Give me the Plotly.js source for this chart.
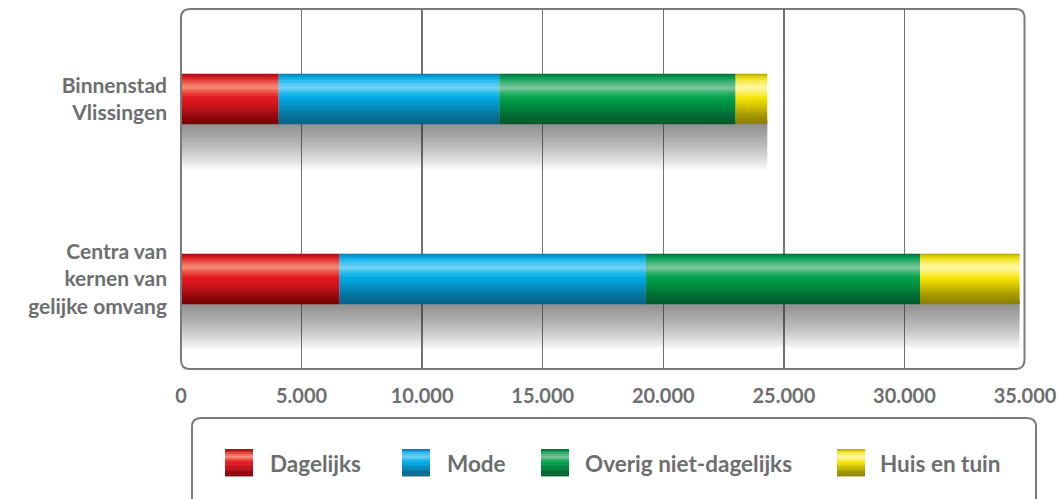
<!DOCTYPE html>
<html>
<head>
<meta charset="utf-8">
<script src="https://cdn.plot.ly/plotly-3.0.1.min.js"></script>
<style>html,body{margin:0;padding:0;background:#fff;}#chart{width:1059px;height:499px;}</style>
</head>
<body>
<div id="chart"></div>
<script>
// ---- data ----
const categories = ['Binnenstad<br>Vlissingen', 'Centra van<br>kernen van<br>gelijke omvang'];
const seriesNames = ['Dagelijks', 'Mode', 'Overig niet-dagelijks', 'Huis en tuin'];
const dagelijks = [4050, 6575];
const mode = [9150, 12705];
const overigNietDagelijks = [9800, 11365];
const huisEnTuin = [1310, 4130];
const xTickValues = [0, 5000, 10000, 15000, 20000, 25000, 30000, 35000];
const xTickLabels = ['0', '5.000', '10.000', '15.000', '20.000', '25.000', '30.000', '35.000'];

// ---- styles ----
const gradients = [
  [[0,'#9a0a11'],[0.08,'#d5151d'],[0.18,'#ec5548'],[0.28,'#f5917a'],[0.38,'#ef5044'],[0.48,'#e31a22'],[0.62,'#d4151d'],[0.8,'#a30d14'],[1,'#780000']],
  [[0,'#0a6f9e'],[0.08,'#00a6e0'],[0.18,'#3cc3f0'],[0.3,'#72d2f6'],[0.4,'#1fb8ec'],[0.5,'#00aae4'],[0.65,'#0592c6'],[0.82,'#05779f'],[1,'#06628a']],
  [[0,'#05603a'],[0.08,'#009a4e'],[0.18,'#40b276'],[0.3,'#7ec99d'],[0.4,'#2caf68'],[0.5,'#00a04c'],[0.65,'#008d42'],[0.82,'#006f34'],[1,'#005a2a']],
  [[0,'#a59a00'],[0.08,'#e6d900'],[0.18,'#fbef60'],[0.3,'#fff7a6'],[0.4,'#fbef55'],[0.5,'#f5e500'],[0.65,'#d4c400'],[0.82,'#aa9c00'],[1,'#8b7e00']]
];
const textColor = '#6d6e70';
const fontFamily = 'Lato, "Open Sans", sans-serif';

function hexToRgb(h){h=h.replace('#','');return [parseInt(h.substr(0,2),16),parseInt(h.substr(2,2),16),parseInt(h.substr(4,2),16)];}
function sampleGradient(stops, t){
  for(let i=0;i<stops.length-1;i++){
    const [p0,c0]=stops[i],[p1,c1]=stops[i+1];
    if(t>=p0 && t<=p1){
      const f=(t-p0)/(p1-p0||1);const a=hexToRgb(c0),b=hexToRgb(c1);
      return 'rgb('+a.map((v,j)=>Math.round(v+(b[j]-v)*f)).join(',')+')';
    }
  }
  return stops[stops.length-1][1];
}

const seriesValues = [dagelijks, mode, overigNietDagelijks, huisEnTuin];
const yCats = categories;
const totals = categories.map((_, i) => seriesValues.reduce((s, arr) => s + arr[i], 0));

const T = 0.28;         // bar thickness (category units)
const N = 22;           // gradient strips
const h = T / N;
const traces = [];

// soft shadow below bars: nested translucent layers (no seams)
const M = 20, shadowDepth = 0.25;
for (let k = 0; k < M; k++) {
  const d = shadowDepth * (k + 1) / M;
  traces.push({
    type: 'bar', orientation: 'h', y: yCats, x: totals, base: [0, 0],
    width: d + 0.02, offset: -T / 2 - d,
    marker: {color: 'rgba(60,60,60,0.036)', line: {width: 0}},
    hoverinfo: 'skip', showlegend: false
  });
}

// glossy stacked bars
let bases = categories.map(() => 0);
seriesValues.forEach((vals, s) => {
  const b = bases.slice();
  for (let k = 0; k < N; k++) {
    const t = (k + 0.5) / N;
    const extra = k > 0 ? h * 0.35 : 0;
    traces.push({
      type: 'bar', orientation: 'h', y: yCats, x: vals, base: b,
      width: h + extra, offset: T / 2 - (k + 1) * h,
      marker: {color: sampleGradient(gradients[s], t), line: {width: 0}},
      name: seriesNames[s], hoverinfo: 'skip', showlegend: false
    });
  }
  bases = bases.map((v, i) => v + vals[i]);
});

// ---- layout helpers ----
const L = 181, R = 34, TOP = 9, B = 130, W = 1059, H = 499;
const pw = W - L - R, ph = H - TOP - B;
const px = x => (x - L) / pw;
const py = y => (TOP + ph - y) / ph;
function roundRect(x0p, y0p, x1p, y1p, r) {
  const X0 = px(x0p), X1 = px(x1p), Y0 = py(y1p), Y1 = py(y0p);
  const rx = r / pw, ry = r / ph;
  return `M${X0+rx},${Y1} L${X1-rx},${Y1} Q${X1},${Y1} ${X1},${Y1-ry} L${X1},${Y0+ry} Q${X1},${Y0} ${X1-rx},${Y0} L${X0+rx},${Y0} Q${X0},${Y0} ${X0},${Y0+ry} L${X0},${Y1-ry} Q${X0},${Y1} ${X0+rx},${Y1} Z`;
}

const shapes = [
  {type: 'path', xref: 'paper', yref: 'paper', path: roundRect(181, 9, 1024.5, 369, 9),
   line: {color: '#7a7a7a', width: 2}, layer: 'above'},
  {type: 'path', xref: 'paper', yref: 'paper', path: roundRect(192, 418, 1036, 540, 9),
   line: {color: '#7a7a7a', width: 2}, layer: 'above'}
];
const annotations = [];

// custom legend
const legendSwatchX = [225, 402, 541, 837];
const legendTextX = [268, 445, 583, 878];
const swY0 = 449, swY1 = 476, swW = 28, NS = 16;
seriesNames.forEach((name, s) => {
  for (let k = 0; k < NS; k++) {
    const y0 = swY0 + (swY1 - swY0) * k / NS, y1 = swY0 + (swY1 - swY0) * (k + 1) / NS + 0.4;
    shapes.push({type: 'rect', xref: 'paper', yref: 'paper',
      x0: px(legendSwatchX[s]), x1: px(legendSwatchX[s] + swW), y0: py(y1), y1: py(y0),
      fillcolor: sampleGradient(gradients[s], (k + 0.5) / NS), line: {width: 0}, layer: 'above'});
  }
  annotations.push({xref: 'paper', yref: 'paper', x: px(legendTextX[s]), y: py(463),
    xanchor: 'left', yanchor: 'middle', showarrow: false, text: name,
    font: {family: fontFamily, size: 22.5, color: textColor, weight: 700}});
});

const layout = {
  width: W, height: H,
  margin: {l: L, r: R, t: TOP, b: B, pad: 0},
  paper_bgcolor: '#ffffff', plot_bgcolor: '#ffffff',
  barmode: 'overlay', showlegend: false,
  xaxis: {
    range: [0, 35000], tickvals: xTickValues, ticktext: xTickLabels,
    showgrid: true, gridcolor: '#727272', gridwidth: 1.5, zeroline: false,
    showline: false, ticks: '', ticklabelstandoff: 13,
    tickfont: {family: fontFamily, size: 20, color: textColor, weight: 700},
    fixedrange: true
  },
  yaxis: {
    type: 'category', categoryorder: 'array', categoryarray: categories.slice().reverse(),
    range: [-0.5, 1.5], showgrid: false, zeroline: false, showline: false, ticks: '',
    ticklabelstandoff: 13,
    tickfont: {family: fontFamily, size: 21, color: textColor, weight: 700},
    fixedrange: true
  },
  shapes: shapes, annotations: annotations
};

Plotly.newPlot('chart', traces, layout, {displayModeBar: false, staticPlot: true});
</script>
</body>
</html>
